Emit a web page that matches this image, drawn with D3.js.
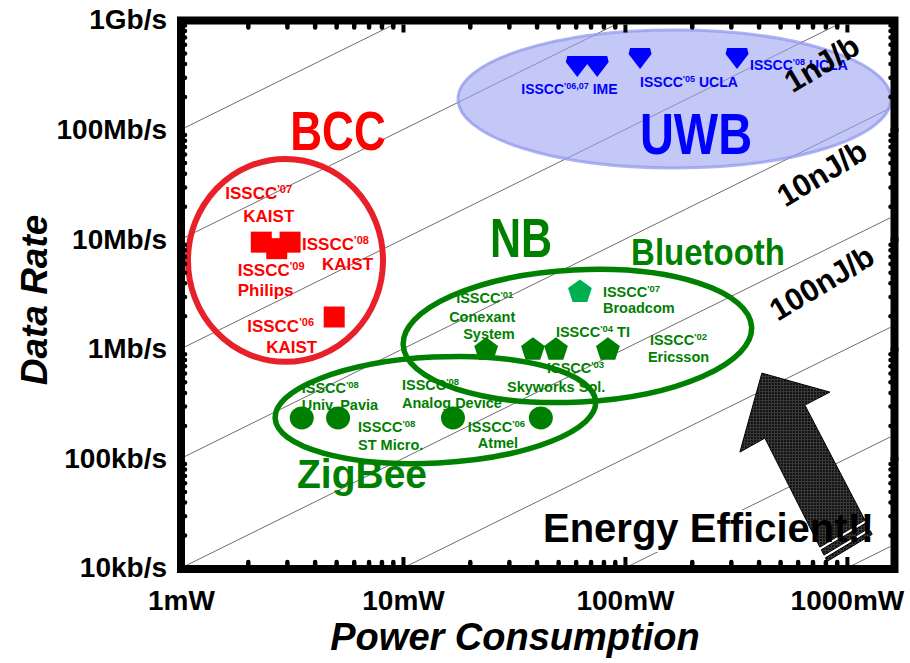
<!DOCTYPE html>
<html>
<head>
<meta charset="utf-8">
<script src="https://cdn.jsdelivr.net/npm/d3@7/dist/d3.min.js"></script>
<style>
  html, body { margin: 0; padding: 0; background: #ffffff; }
  svg { display: block; }
  text { font-family: "Liberation Sans", Arial, Helvetica, sans-serif; font-weight: bold; }
</style>
</head>
<body>
<svg id="chart" width="910" height="663"></svg>
<script>
// ---- axis ticks ----
const xTickValues = [1, 10, 100, 1000];                  // mW
const xTickLabels = ["1mW", "10mW", "100mW", "1000mW"];
const yTickValues = [0.01, 0.1, 1, 10, 100, 1000];       // Mb/s
const yTickLabels = ["10kb/s", "100kb/s", "1Mb/s", "10Mb/s", "100Mb/s", "1Gb/s"];
const xMaxPower = 1630;                                  // right end of the power axis, mW

// ---- constant energy-per-bit guide lines (nJ/b) ----
const energyLevels = [0.01, 0.1, 1, 10, 100, 1000, 10000, 100000];
const energyLabelLevels = [1, 10, 100];
const energyLabelTexts = ["1nJ/b", "10nJ/b", "100nJ/b"];
const energyLabelPower = 770;                            // mW, where the labels sit along their lines

// ---- BCC (body channel communication) ----
const bccPower = [2.3, 3.1, 2.7, 4.9];
const bccRate = [9.4, 9.4, 8.2, 1.95];
const bccLabels = [
  [["ISSCC", "^'07"], ["KAIST"]],
  [["ISSCC", "^'08"], ["KAIST"]],
  [["ISSCC", "^'09"], ["Philips"]],
  [["ISSCC", "^'06"], ["KAIST"]]
];

// ---- UWB ----
const uwbPower = [61, 75, 117, 320];
const uwbRate = [380, 380, 450, 450];
const uwbLabels = [
  [["ISSCC", "^'06,07", " IME"]],
  [],
  [["ISSCC", "^'05", " UCLA"]],
  [["ISSCC", "^'08", " UCLA"]]
];

// ---- NB: Bluetooth ----
const btPower = [23.7, 38.5, 48.9, 83.8, 62.7];
const btRate = [0.98, 0.98, 0.98, 0.98, 3.3];
const btLabels = [
  [["ISSCC", "^'01"], ["Conexant"], ["System"]],
  [["ISSCC", "^'04", " TI"]],
  [["ISSCC", "^'03"], ["Skyworks Sol."]],
  [["ISSCC", "^'02"], ["Ericsson"]],
  [["ISSCC", "^'07"], ["Broadcom"]]
];

// ---- NB: ZigBee ----
const zbPower = [3.5, 5.1, 16.8, 41.8];
const zbRate = [0.234, 0.234, 0.234, 0.234];
const zbLabels = [
  [["ISSCC", "^'08"], ["Univ. Pavia"]],
  [["ISSCC", "^'08"], ["ST Micro."]],
  [["ISSCC", "^'08"], ["Analog Device"]],
  [["ISSCC", "^'06"], ["Atmel"]]
];

// ---- group outlines: [minPower, maxPower, minRate, maxRate] ----
const bccRegion = [1.075, 8.13, 0.76, 54];
const uwbRegion = [17.7, 1578, 44.7, 811];
const btRegion = [10, 373, 0.327, 5.24];
const zbRegion = [2.65, 74, 0.0908, 0.841];

// ---- layout (pixels) ----
const bccLabelOffsets = [
  [[-36, -43], [-18, -20]],
  [[12, 8], [32, 28]],
  [[-39, 27], [-39, 47]],
  [[-87, 15], [-68, 36]]
];
const uwbLabelOffsets = [[[-56, 28]], [], [[0, 29]], [[13, 12]]];
const btLabelOffsets = [
  [[-30, -47], [-37, -28], [-23, -11]],
  [[23, -13]],
  [[-9, 23], [-49, 42]],
  [[42, -5], [40, 12]],
  [[23, 5], [23, 21]]
];
const zbLabelOffsets = [
  [[0, -25], [0, -8]],
  [[20, 14], [20, 32]],
  [[-51, -28], [-51, -10]],
  [[-73, 14], [-63, 30]]
];

const RED = "#ff0000", RED_RING = "#e8202a", GREEN = "#008000", LIGHT_GREEN = "#00b050", BLUE = "#0000ff";

const svg = d3.select("#chart");
const x = d3.scaleLog().domain([1, xMaxPower]).range([181, 894]);
const y = d3.scaleLog().domain([0.01, 1000]).range([568, 20]);

// frame (thick border) geometry
const FRAME = 8;
const fL = x.range()[0], fR = x.range()[1] + 0.5, fT = y.range()[1] + 0.5, fB = y.range()[0] + 1;
const iL = fL + FRAME / 2, iR = fR - FRAME / 2, iT = fT + FRAME / 2, iB = fB - FRAME / 2;

const defs = svg.append("defs");
defs.append("clipPath").attr("id", "plotClip")
  .append("rect").attr("x", iL).attr("y", iT).attr("width", iR - iL).attr("height", iB - iT);

// textured dark fill for the arrow
const pat = defs.append("pattern").attr("id", "arrowTex")
  .attr("width", 3).attr("height", 3).attr("patternUnits", "userSpaceOnUse");
pat.append("rect").attr("width", 3).attr("height", 3).attr("fill", "#0e0e0e");
pat.append("rect").attr("width", 3).attr("height", 1).attr("fill", "#3c3c3c");
pat.append("rect").attr("width", 1).attr("height", 3).attr("fill", "#3c3c3c");

// ---- energy per bit lines: rate = power / energy ----
const gGrid = svg.append("g").attr("clip-path", "url(#plotClip)");
gGrid.selectAll("line").data(energyLevels).join("line")
  .attr("x1", x(1)).attr("y1", e => y(1 / e))
  .attr("x2", x(xMaxPower)).attr("y2", e => y(xMaxPower / e))
  .attr("stroke", "#6e6e6e").attr("stroke-width", 1);

// region outline helper
function regionEllipse(g, r) {
  const cx = (x(r[0]) + x(r[1])) / 2, rx = (x(r[1]) - x(r[0])) / 2;
  const cy = (y(r[2]) + y(r[3])) / 2, ry = (y(r[2]) - y(r[3])) / 2;
  return g.append("ellipse").attr("cx", cx).attr("cy", cy).attr("rx", rx).attr("ry", ry);
}

const gRegions = svg.append("g");
// UWB: translucent filled oval
regionEllipse(gRegions, uwbRegion)
  .attr("fill", "#9da3f0").attr("fill-opacity", 0.6)
  .attr("stroke", "#9298ee").attr("stroke-opacity", 0.75).attr("stroke-width", 3);

// white backing behind the "Energy Efficient!!" caption
const gBack = svg.append("g");

regionEllipse(gRegions, bccRegion)
  .attr("fill", "none").attr("stroke", RED_RING).attr("stroke-width", 6);
{
  const e = regionEllipse(gRegions, btRegion).attr("fill", "none").attr("stroke", GREEN).attr("stroke-width", 5.5);
  e.attr("transform", `rotate(-3 ${e.attr("cx")} ${e.attr("cy")})`);
}
{
  const e = regionEllipse(gRegions, zbRegion).attr("fill", "none").attr("stroke", GREEN).attr("stroke-width", 5.5);
  e.attr("transform", `rotate(-3 ${e.attr("cx")} ${e.attr("cy")})`);
}

// ---- markers ----
const gMarks = svg.append("g");
function pentagon(r, down) {
  const pts = d3.range(5).map(i => {
    const a = (down ? Math.PI / 2 : -Math.PI / 2) + i * 2 * Math.PI / 5;
    return [r * Math.cos(a), r * Math.sin(a)];
  });
  return "M" + pts.map(p => p.join(",")).join("L") + "Z";
}
const shield = "M-10,-10L10,-10L11.5,-4L0,11L-11.5,-4Z";

gMarks.selectAll(".bcc").data(bccPower).join("path").attr("class", "bcc")
  .attr("d", d3.symbol(d3.symbolSquare, 21 * 21))
  .attr("transform", (d, i) => `translate(${x(d)},${y(bccRate[i])})`)
  .attr("fill", RED);

gMarks.selectAll(".uwb").data(uwbPower).join("path").attr("class", "uwb")
  .attr("d", shield)
  .attr("transform", (d, i) => `translate(${x(d)},${y(uwbRate[i])})`)
  .attr("fill", BLUE);

gMarks.selectAll(".bt").data(btPower).join("path").attr("class", "bt")
  .attr("d", pentagon(12.5, false))
  .attr("transform", (d, i) => `translate(${x(d)},${y(btRate[i])})`)
  .attr("fill", (d, i) => i === 4 ? LIGHT_GREEN : GREEN);

gMarks.selectAll(".zb").data(zbPower).join("ellipse").attr("class", "zb")
  .attr("cx", d => x(d)).attr("cy", (d, i) => y(zbRate[i]))
  .attr("rx", 12).attr("ry", 11.5)
  .attr("fill", GREEN);

// ---- reference labels with superscript years ----
const gLabels = svg.append("g");
function drawLabels(powers, rates, labels, offsets, color, fs, supFs) {
  labels.forEach((lines, i) => {
    const px = x(powers[i]), py = y(rates[i]);
    lines.forEach((parts, j) => {
      const t = gLabels.append("text")
        .attr("x", px + offsets[i][j][0]).attr("y", py + offsets[i][j][1])
        .attr("fill", color).style("font-size", fs + "px");
      let raised = false;
      parts.forEach(part => {
        if (part.startsWith("^")) {
          t.append("tspan").text(part.slice(1)).style("font-size", supFs + "px").attr("dy", -fs * 0.36);
          raised = true;
        } else {
          const ts = t.append("tspan").text(part);
          if (raised) { ts.attr("dy", fs * 0.36); raised = false; }
        }
      });
    });
  });
}
drawLabels(bccPower, bccRate, bccLabels, bccLabelOffsets, RED, 17, 11);
drawLabels(uwbPower, uwbRate, uwbLabels, uwbLabelOffsets, BLUE, 14, 9);
drawLabels(btPower, btRate, btLabels, btLabelOffsets, GREEN, 14.5, 9.5);
drawLabels(zbPower, zbRate, zbLabels, zbLabelOffsets, GREEN, 14.5, 9.5);

// ---- group titles (slightly tall lettering) ----
const titles = [
  { text: "BCC", x: 338, y: 150, size: 44, stretch: 1.25, color: RED },
  { text: "UWB", x: 696, y: 154, size: 47, stretch: 1.22, color: BLUE },
  { text: "NB", x: 521, y: 257, size: 43, stretch: 1.28, color: GREEN },
  { text: "Bluetooth", x: 708, y: 265, size: 33, stretch: 1.12, color: GREEN },
  { text: "ZigBee", x: 362, y: 488, size: 39, stretch: 1.05, color: GREEN }
];
svg.append("g").selectAll("text").data(titles).join("text")
  .attr("transform", d => `translate(${d.x},${d.y}) scale(1,${d.stretch})`)
  .attr("text-anchor", "middle")
  .attr("fill", d => d.color)
  .style("font-size", d => d.size + "px")
  .text(d => d.text);

// ---- efficiency arrow (shape in pixels, anchored at its tip) ----
const arrowTip = [414, 0.60];  // mW, Mb/s
const arrowBody = [[0, 0], [68, 19], [43, 32], [103, 147], [58, 174], [3, 65], [-22, 79]];
const tailDir = [0.457, 0.889];
const tailL = arrowBody[4], tailR = arrowBody[3];
const strip = (a, b) => [
  [tailR[0] + tailDir[0] * a, tailR[1] + tailDir[1] * a],
  [tailR[0] + tailDir[0] * b, tailR[1] + tailDir[1] * b],
  [tailL[0] + tailDir[0] * b, tailL[1] + tailDir[1] * b],
  [tailL[0] + tailDir[0] * a, tailL[1] + tailDir[1] * a]
];
const gArrow = svg.append("g")
  .attr("transform", `translate(${x(arrowTip[0])},${y(arrowTip[1])})`);
[arrowBody, strip(3, 9), strip(12, 16)].forEach(poly => {
  gArrow.append("path")
    .attr("d", "M" + poly.map(p => p.join(",")).join("L") + "Z")
    .attr("fill", "url(#arrowTex)").attr("stroke", "#000").attr("stroke-width", 1);
});

const eff = svg.append("text").attr("x", 543).attr("y", 542)
  .attr("fill", "#000").style("font-size", "40px").text("Energy Efficient!!");
{
  const b = eff.node().getBBox();
  gBack.append("rect").attr("x", b.x - 2).attr("y", b.y + 4).attr("width", b.width + 4).attr("height", b.height - 2)
    .attr("fill", "#fff");
}

// ---- energy labels along their lines ----
svg.append("g").selectAll("text").data(energyLabelLevels).join("text")
  .attr("transform", e => `translate(${x(energyLabelPower)},${y(energyLabelPower / e) + 31}) rotate(-31)`)
  .attr("text-anchor", "middle").attr("dy", "0.35em")
  .attr("fill", "#000").style("font-size", "31px")
  .text((e, i) => energyLabelTexts[i]);

// ---- frame and inward ticks ----
function minorTicks(lo, hi) {
  const v = [];
  for (let e = Math.floor(Math.log10(lo)); e <= Math.ceil(Math.log10(hi)); e++)
    for (let m = 2; m <= 9; m++) { const t = m * Math.pow(10, e); if (t > lo && t < hi) v.push(t); }
  return v;
}
const xMinor = minorTicks(1, xMaxPower), yMinor = minorTicks(0.01, 1000);
const xMajor = xTickValues.slice(1), yMajor = yTickValues.slice(1, -1);

function tickAxis(axisFn, scale, values, size, pos, cap, width) {
  const g = svg.append("g").attr("transform", pos)
    .call(axisFn(scale).tickValues(values).tickSize(size).tickFormat(""));
  g.select(".domain").remove();
  g.selectAll(".tick line").attr("stroke", "#000").attr("stroke-width", width).attr("stroke-linecap", cap);
}
tickAxis(d3.axisBottom, x, xMinor, -3, `translate(0,${iB})`, "round", 4.5);
tickAxis(d3.axisTop, x, xMinor, -3, `translate(0,${iT})`, "round", 4.5);
tickAxis(d3.axisRight, y, yMinor, -3, `translate(${iL},0)`, "round", 4.5);
tickAxis(d3.axisLeft, y, yMinor, -3, `translate(${iR},0)`, "round", 4.5);
tickAxis(d3.axisBottom, x, xMajor, -8, `translate(0,${iB})`, "butt", 4);
tickAxis(d3.axisTop, x, xMajor, -8, `translate(0,${iT})`, "butt", 4);
tickAxis(d3.axisRight, y, yMajor, -8, `translate(${iL},0)`, "butt", 4);
tickAxis(d3.axisLeft, y, yMajor, -8, `translate(${iR},0)`, "butt", 4);

svg.append("rect").attr("x", fL).attr("y", fT).attr("width", fR - fL).attr("height", fB - fT)
  .attr("fill", "none").attr("stroke", "#000").attr("stroke-width", FRAME);

// ---- tick labels ----
const gx = svg.append("g").attr("transform", `translate(0,${fB})`)
  .call(d3.axisBottom(x).tickValues(xTickValues).tickSize(0).tickPadding(21)
    .tickFormat((d, i) => xTickLabels[i]));
gx.select(".domain").remove();
gx.selectAll("text").attr("fill", "#000").style("font-size", "28px")
  .style("font-family", "'Liberation Sans', Arial, sans-serif").style("font-weight", "bold");

const gy = svg.append("g").attr("transform", `translate(${fL},0)`)
  .call(d3.axisLeft(y).tickValues(yTickValues).tickSize(0).tickPadding(14)
    .tickFormat((d, i) => yTickLabels[i]));
gy.select(".domain").remove();
gy.selectAll("text").attr("fill", "#000").style("font-size", "28px")
  .style("font-family", "'Liberation Sans', Arial, sans-serif").style("font-weight", "bold");

// ---- axis titles ----
svg.append("text").attr("x", 515).attr("y", 650).attr("text-anchor", "middle")
  .style("font-size", "38px").style("font-style", "italic").text("Power Consumption");
svg.append("text").attr("transform", "translate(47,300) rotate(-90)").attr("text-anchor", "middle")
  .style("font-size", "37px").style("font-style", "italic").text("Data Rate");
</script>
</body>
</html>
